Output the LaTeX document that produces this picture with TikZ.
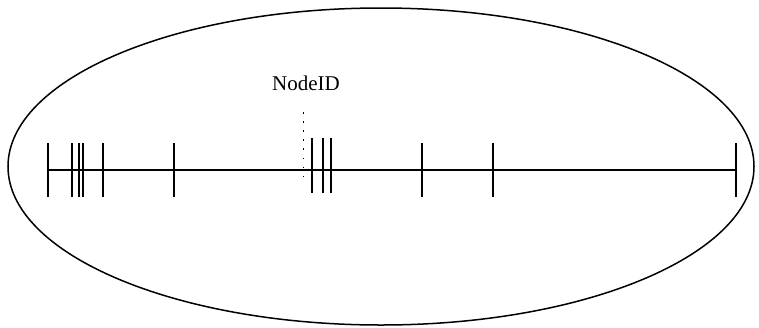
\documentclass[tikz,border=0pt]{standalone}
\usepackage{fontspec}
\setmainfont{Liberation Serif}
\begin{document}
\begin{tikzpicture}[x=1pt,y=-1pt,
  tick/.style={line width=2pt},
  axis/.style={line width=2pt},
  outline/.style={line width=1.5pt},
  dotline/.style={line width=1.6pt, dash pattern=on 1.6pt off 7.5pt}]
\useasboundingbox (0,0) rectangle (759,327);
\draw[outline] (381,166.5) ellipse [x radius=373, y radius=158.5];
\coordinate (L) at (48,170);
\coordinate (R) at (736,170);
\draw[axis] (L) -- (R);
\foreach \x in {48,72,79.3,82.7,103.3,174,422,492.7,736}
  \draw[tick] (\x,143) -- (\x,197);
\foreach \x in {311.7,323.3,331.3}
  \draw[tick] (\x,138) -- (\x,193);
\draw[dotline] (303.3,112) -- (303.3,178);
\node[font=\fontsize{21}{24}\selectfont, inner sep=0pt] (label) at (306,83.5) {NodeID};
\end{tikzpicture}
\end{document}
